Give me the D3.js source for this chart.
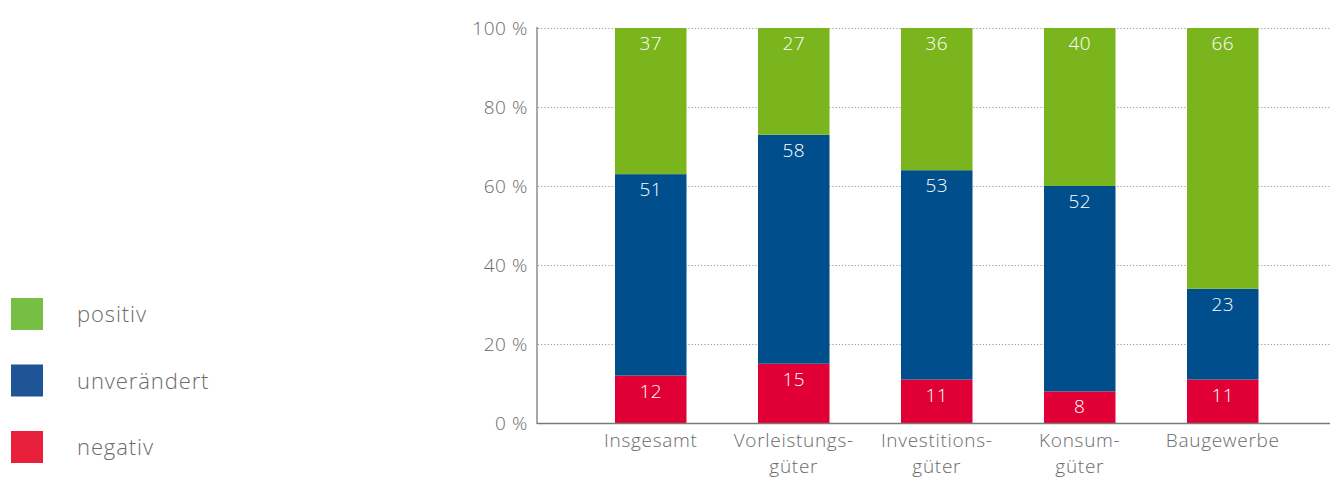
<!DOCTYPE html>
<html lang="de">
<head>
    <meta charset="UTF-8">
    <title>Stacked bars</title>
    <script src="https://cdn.jsdelivr.net/npm/d3@7"></script>
    <style>
        body { margin: 0; background: #ffffff; }
        text { font-family: "Open Sans", "Noto Sans", sans-serif; font-weight: 300; }
    </style>
</head>
<body>
    <div id="canvas"></div>

    <script>

        const categories = [['Insgesamt'], ['Vorleistungs-', 'güter'], ['Investitions-', 'güter'], ['Konsum-', 'güter'], ['Baugewerbe']];
        const negativ = [12, 15, 11, 8, 11];
        const unveraendert = [51, 58, 53, 52, 23];
        const positiv = [37, 27, 36, 40, 66];
        const seriesNames = ['negativ', 'unverändert', 'positiv'];
        const yTicks = [0, 20, 40, 60, 80, 100];

        const barColors = { 'negativ': '#e10035', 'unverändert': '#004f8c', 'positiv': '#7ab51d' };
        const legendColors = { 'negativ': '#e8203b', 'unverändert': '#1f5496', 'positiv': '#76bf44' };

        const width = 1330;
        const height = 478;

        const svg = d3.select('#canvas')
            .append('svg')
            .attr('width', width)
            .attr('height', height);

        const rows = categories.map((c, i) => ({
            key: i,
            'negativ': negativ[i],
            'unverändert': unveraendert[i],
            'positiv': positiv[i]
        }));

        const x = d3.scaleBand()
            .domain(d3.range(categories.length))
            .range([543.5, 1330])
            .paddingInner(0.5)
            .paddingOuter(0.5);

        const y = d3.scaleLinear()
            .domain([0, 100])
            .range([423, 28]);

        // gridlines
        svg.append('g')
            .selectAll('line')
            .data(yTicks.filter(t => t > 0))
            .enter()
            .append('line')
            .attr('x1', 538)
            .attr('x2', width)
            .attr('y1', d => y(d) + 0.5)
            .attr('y2', d => y(d) + 0.5)
            .attr('stroke', '#9a9a9a')
            .attr('stroke-width', 1)
            .attr('stroke-dasharray', '1.2,2');

        // stacked bars
        const stack = d3.stack().keys(seriesNames);
        const layers = stack(rows);

        const layer = svg.selectAll('g.layer')
            .data(layers)
            .enter()
            .append('g')
            .attr('class', 'layer')
            .attr('fill', d => barColors[d.key]);

        layer.selectAll('rect')
            .data(d => d)
            .enter()
            .append('rect')
            .attr('x', (d, i) => x(i))
            .attr('width', x.bandwidth())
            .attr('y', d => y(d[1]))
            .attr('height', d => y(d[0]) - y(d[1]));

        layer.selectAll('text')
            .data(d => d)
            .enter()
            .append('text')
            .attr('x', (d, i) => x(i) + x.bandwidth() / 2)
            .attr('y', d => y(d[1]) + 22)
            .attr('text-anchor', 'middle')
            .attr('fill', '#ffffff')
            .style('font-size', '19px')
            .style('letter-spacing', '0.5px')
            .text(d => d[1] - d[0]);

        // axes
        svg.append('line')
            .attr('x1', 537).attr('x2', 537)
            .attr('y1', 27).attr('y2', 424)
            .attr('stroke', '#8c8c8c')
            .attr('stroke-width', 1.5);

        svg.append('line')
            .attr('x1', 537).attr('x2', width)
            .attr('y1', 423.5).attr('y2', 423.5)
            .attr('stroke', '#7a7a7a')
            .attr('stroke-width', 1.5);

        svg.append('g')
            .selectAll('text')
            .data(yTicks)
            .enter()
            .append('text')
            .attr('x', 528)
            .attr('y', d => y(d) + 6.5)
            .attr('text-anchor', 'end')
            .attr('fill', '#6b6b6b')
            .style('font-size', '19px')
            .style('letter-spacing', '0.6px')
            .text(d => d + ' %');

        const xLabels = svg.append('g')
            .selectAll('text')
            .data(categories)
            .enter()
            .append('text')
            .attr('x', (d, i) => x(i) + x.bandwidth() / 2)
            .attr('y', 447)
            .attr('text-anchor', 'middle')
            .attr('fill', '#6b6b6b')
            .style('font-size', '19px')
            .style('letter-spacing', '0.7px');

        xLabels.selectAll('tspan')
            .data(d => d)
            .enter()
            .append('tspan')
            .attr('x', function () { return d3.select(this.parentNode).attr('x'); })
            .attr('dy', (d, i) => i === 0 ? 0 : 26)
            .text(d => d);

        // legend
        const legendOrder = ['positiv', 'unverändert', 'negativ'];
        const legend = svg.selectAll('g.legend')
            .data(legendOrder)
            .enter()
            .append('g')
            .attr('class', 'legend')
            .attr('transform', (d, i) => `translate(11, ${298 + i * 66.5})`);

        legend.append('rect')
            .attr('width', 32)
            .attr('height', 32)
            .attr('fill', d => legendColors[d]);

        legend.append('text')
            .attr('x', 66)
            .attr('y', 24)
            .attr('fill', '#6b6b6b')
            .style('font-size', '22px')
            .style('letter-spacing', '0.9px')
            .text(d => d);

    </script>
</body>
</html>
